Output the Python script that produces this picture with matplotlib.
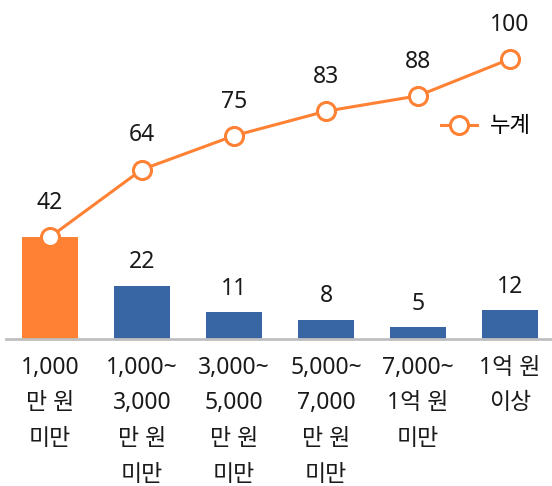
import matplotlib
matplotlib.use("Agg")
import matplotlib.pyplot as plt
from matplotlib.lines import Line2D

plt.rcParams['font.family'] = ['Noto Sans', 'Noto Sans CJK KR', 'DejaVu Sans']

categories = ["1,000\n만 원\n미만", "1,000~\n3,000\n만 원\n미만", "3,000~\n5,000\n만 원\n미만",
              "5,000~\n7,000\n만 원\n미만", "7,000~\n1억 원\n미만", "1억 원\n이상"]
shares = [42, 22, 11, 8, 5, 12]
cumulative = [42, 64, 75, 83, 88, 100]
legend_label = "누계"

orange = "#FF8133"
blue = "#3865A3"
text_color = "#1a1a1a"

W, H = 552, 486
fig = plt.figure(figsize=(W / 100, H / 100), dpi=100)
ax_bottom_px = 339
ax_top_px = 20
ax = fig.add_axes([6 / W, (H - ax_bottom_px) / H, 1 - 6 / W, (ax_bottom_px - ax_top_px) / H])
x = list(range(len(categories)))
colors = [orange] + [blue] * (len(categories) - 1)
ax.bar(x, shares, width=0.6, color=colors, zorder=2)
ax.set_xlim(-0.478, 5.457)
ax.set_ylim(0, (ax_bottom_px - ax_top_px) / 2.43)
for xi, v in zip(x, shares):
    if xi == 0:
        continue
    ax.annotate(str(v), (xi, v), xytext=(0, 8), textcoords="offset points",
                ha="center", va="bottom", fontsize=16.5, color=text_color)

ax2 = ax.twinx()
ax2.set_ylim((366 - ax_bottom_px) / 3.07, (366 - ax_top_px) / 3.07)
ax2.plot(x, cumulative, color=orange, lw=2.2, marker="o", markersize=13,
         markerfacecolor="white", markeredgecolor=orange, markeredgewidth=2.2, zorder=3)
for xi, v in zip(x, cumulative):
    ax2.annotate(str(v), (xi, v), xytext=(0, 16), textcoords="offset points",
                 ha="center", va="bottom", fontsize=16.5, color=text_color)

for a in (ax, ax2):
    for s in a.spines.values():
        s.set_visible(False)
    a.set_yticks([])
ax.spines['bottom'].set_visible(True)
ax.spines['bottom'].set_color("#BFBFBF")
ax.spines['bottom'].set_linewidth(2)
ax.set_xticks(x)
ax.set_xticklabels(categories, fontsize=16.5, linespacing=1.65, color=text_color)
ax.tick_params(axis='x', length=0, pad=12)

handle = Line2D([], [], color=orange, lw=2.2, marker="o", markersize=13,
                markerfacecolor="white", markeredgecolor=orange, markeredgewidth=2.2)
fig.legend([handle], [legend_label], loc="center left", bbox_to_anchor=(421 / W, 1 - 127 / H),
           frameon=False, fontsize=16, handlelength=1.6, handletextpad=0.6)

fig.savefig("out.png", dpi=100)
